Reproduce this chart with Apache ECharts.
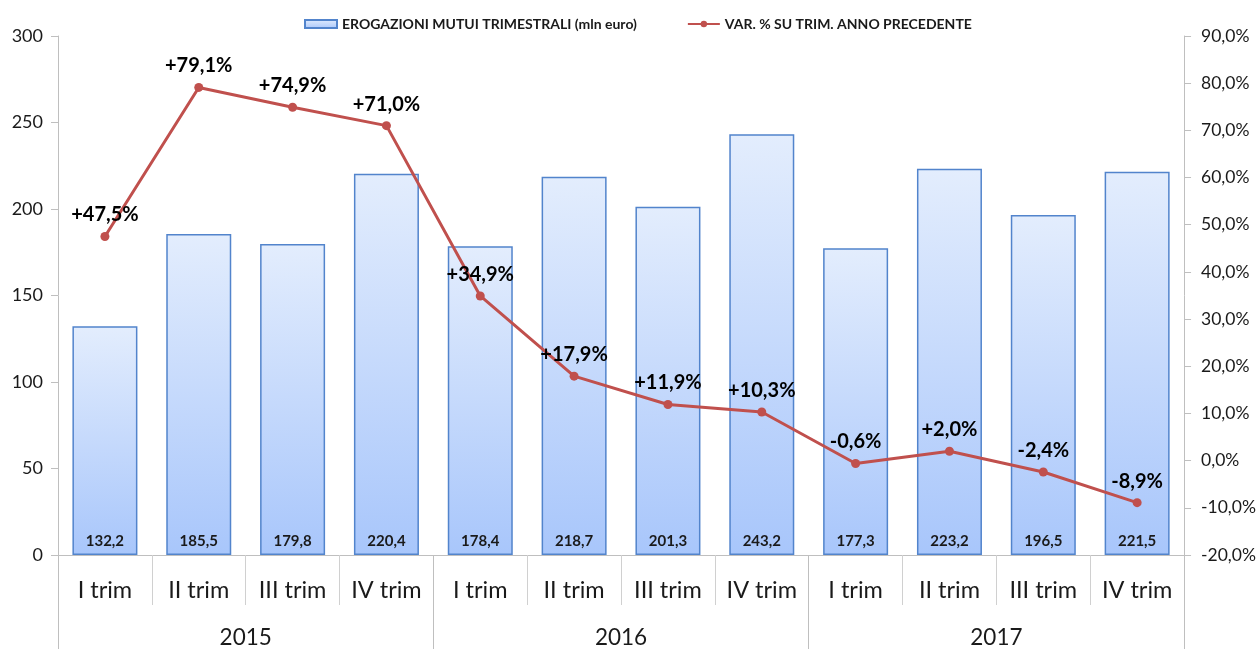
<!DOCTYPE html>
<html>
<head>
<meta charset="utf-8">
<script src="https://cdn.jsdelivr.net/npm/echarts@6/dist/echarts.min.js"></script>
<style>html,body{margin:0;padding:0;background:#fff}#c{width:1259px;height:649px}</style>
</head>
<body>
<div id="c"></div>
<script>
var quarters = ['I trim','II trim','III trim','IV trim','I trim','II trim','III trim','IV trim','I trim','II trim','III trim','IV trim'];
var years = ['2015','2016','2017'];
var erogazioni = [132.2,185.5,179.8,220.4,178.4,218.7,201.3,243.2,177.3,223.2,196.5,221.5];
var variazione = [47.5,79.1,74.9,71.0,34.9,17.9,11.9,10.3,-0.6,2.0,-2.4,-8.9];
var leftTicks = {min:0,max:300,interval:50};
var rightTicks = {min:-20,max:90,interval:10};

var FONT = 'Lato';
function comma(v){return v.toFixed(1).replace('.',',');}
var chart = echarts.init(document.getElementById('c'));
chart.setOption({
  animation:false,
  textStyle:{fontFamily:FONT},
  legend:{
    top:12,left:299,itemGap:50,itemWidth:32,itemHeight:8,
    textStyle:{fontFamily:FONT,fontSize:14,color:'#1a1a1a',fontWeight:'bold'},
    data:[
      {name:'EROGAZIONI MUTUI TRIMESTRALI (mln euro)',icon:'rect'},
      {name:'VAR. % SU TRIM. ANNO PRECEDENTE'}
    ]
  },
  grid:{left:58,right:74,top:36,bottom:94,containLabel:false},
  xAxis:[
    {type:'category',data:quarters,position:'bottom',
     axisLine:{show:true,onZero:false,lineStyle:{color:'#bfbfbf',width:1}},
     axisTick:{show:true,interval:0,length:50,lineStyle:{color:'#d0d0d0'}},
     axisLabel:{interval:0,fontSize:23.5,color:'#1a1a1a',margin:23,fontFamily:FONT}},
    {type:'category',data:years,position:'bottom',
     axisLine:{show:false,onZero:false},
     axisTick:{show:true,inside:false,interval:0,length:94,lineStyle:{color:'#bfbfbf'}},
     axisLabel:{interval:0,fontSize:22.5,color:'#1a1a1a',margin:71,fontFamily:FONT}}
  ],
  yAxis:[
    {type:'value',min:leftTicks.min,max:leftTicks.max,interval:leftTicks.interval,
     splitLine:{show:false},
     axisLine:{show:true,lineStyle:{color:'#bfbfbf'}},
     axisTick:{show:true,length:7,lineStyle:{color:'#bfbfbf'}},
     axisLabel:{fontSize:18,color:'#1a1a1a',margin:15,fontFamily:FONT}},
    {type:'value',min:rightTicks.min,max:rightTicks.max,interval:rightTicks.interval,position:'right',
     splitLine:{show:false},
     axisLine:{show:true,lineStyle:{color:'#bfbfbf'}},
     axisTick:{show:true,length:7,lineStyle:{color:'#bfbfbf'}},
     axisLabel:{fontSize:17.5,color:'#1a1a1a',margin:17,fontFamily:FONT,
       formatter:function(v){return comma(v)+'%';}}}
  ],
  series:[
    {name:'EROGAZIONI MUTUI TRIMESTRALI (mln euro)',type:'bar',xAxisIndex:0,yAxisIndex:0,
     data:erogazioni,barWidth:65,
     itemStyle:{
       color:new echarts.graphic.LinearGradient(0,0,0,1,[{offset:0,color:'#e3edfd'},{offset:1,color:'#a8c6fb'}]),
       borderColor:'#5284cc',borderWidth:1.5},
     label:{show:true,position:'insideBottom',distance:6,fontSize:15,fontWeight:'bold',color:'#1a1a1a',fontFamily:FONT,
       formatter:function(p){return comma(p.value);}}},
    {name:'VAR. % SU TRIM. ANNO PRECEDENTE',type:'line',xAxisIndex:0,yAxisIndex:1,
     data:variazione,symbol:'circle',symbolSize:9,
     lineStyle:{color:'#c0504d',width:3},
     itemStyle:{color:'#c0504d'},
     label:{show:true,position:'top',distance:7,fontSize:20,fontWeight:'bold',color:'#000',fontFamily:FONT,
       formatter:function(p){return (p.value>0?'+':'')+comma(p.value)+'%';}}}
  ]
});
</script>
</body>
</html>
